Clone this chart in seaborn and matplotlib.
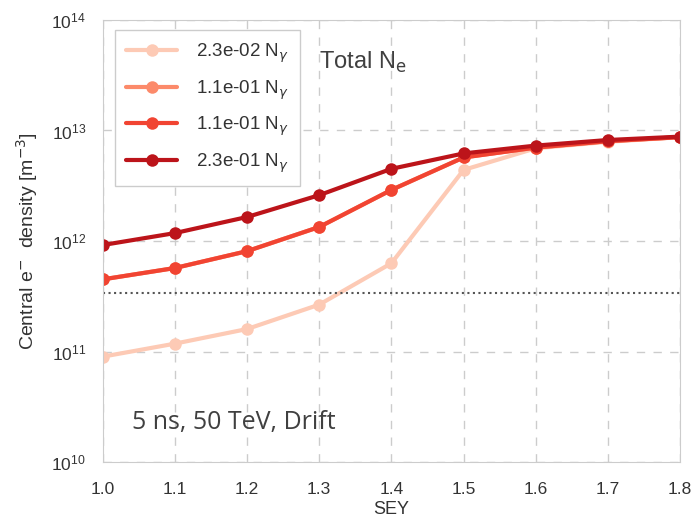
import numpy as np
import pandas as pd
import matplotlib
matplotlib.use("Agg")
import matplotlib.pyplot as plt
import seaborn as sns

sey = [1.0, 1.1, 1.2, 1.3, 1.4, 1.5, 1.6, 1.7, 1.8]

labels = [r"2.3e-02 N$_\gamma$", r"1.1e-01 N$_\gamma$",
          r"1.1e-01 N$_\gamma$", r"2.3e-01 N$_\gamma$"]

dens_023 = [9.0e10, 1.18e11, 1.6e11, 2.66e11, 6.3e11, 4.4e12, 6.9e12, 7.9e12, 8.7e12]
dens_110a = [4.5e11, 5.7e11, 8.1e11, 1.34e12, 2.9e12, 5.7e12, 7.0e12, 8.0e12, 8.7e12]
dens_110b = [4.5e11, 5.7e11, 8.1e11, 1.34e12, 2.9e12, 5.7e12, 7.0e12, 8.0e12, 8.7e12]
dens_230 = [9.2e11, 1.18e12, 1.65e12, 2.6e12, 4.5e12, 6.2e12, 7.3e12, 8.2e12, 8.8e12]

threshold = 3.4e11


def main():
    sns.set_style("whitegrid", {"grid.color": "#cccccc", "axes.edgecolor": "#cccccc"})
    plt.rcParams['font.family'] = ['Liberation Sans', 'DejaVu Sans']
    plt.rcParams['mathtext.fontset'] = 'dejavusans'

    fig = plt.figure(figsize=(6.94, 5.24), dpi=100)
    ax = fig.add_axes([0.148, 0.118, 0.832, 0.844])

    colors = sns.color_palette("Reds", 4)
    series = [dens_023, dens_110a, dens_110b, dens_230]
    for lab, vals, c in zip(labels, series, colors):
        df = pd.DataFrame({"SEY": sey, "dens": vals})
        sns.lineplot(data=df, x="SEY", y="dens", ax=ax, color=c, label=lab,
                     linewidth=3, marker="o", markersize=9, markeredgewidth=0)

    ax.axhline(threshold, color="#555555", linestyle=":", linewidth=1.5)

    ax.set_yscale("log")
    ax.set_ylim(1e10, 1e14)
    ax.set_xlim(1.0, 1.8)
    ax.set_xticks(sey)
    ax.set_yticks([1e10, 1e11, 1e12, 1e13, 1e14])
    ax.minorticks_off()
    ax.grid(True, linestyle=(0, (6, 6)), color="#cccccc", linewidth=1)
    ax.tick_params(labelsize=12.5, colors="#333333", length=0)
    ax.tick_params(axis="x", pad=14)
    ax.tick_params(axis="y", pad=12)
    ax.set_xlabel("SEY", fontsize=13, color="#333333", labelpad=3)
    ax.set_ylabel(r"Central e$^{-}$  density [m$^{-3}$]", fontsize=14, color="#333333",
                  labelpad=8)

    leg = ax.legend(loc="upper left", fontsize=13.5, frameon=True, handlelength=2.7,
                    borderpad=0.6, labelspacing=0.7, framealpha=1, edgecolor="#cccccc",
                    fancybox=False, bbox_to_anchor=(0.005, 0.998), handletextpad=1.0)
    for t in leg.get_texts():
        t.set_color("#333333")

    ax.text(0.375, 0.905, r"Total N$_\mathrm{e}$", transform=ax.transAxes, fontsize=17,
            color="#404040", va="center")
    ax.text(0.05, 0.09, "5 ns, 50 TeV, Drift", transform=ax.transAxes, fontsize=18,
            color="#404040", family="Open Sans", va="center")

    fig.savefig("out.png", dpi=100)


if __name__ == '__main__':
    main()
